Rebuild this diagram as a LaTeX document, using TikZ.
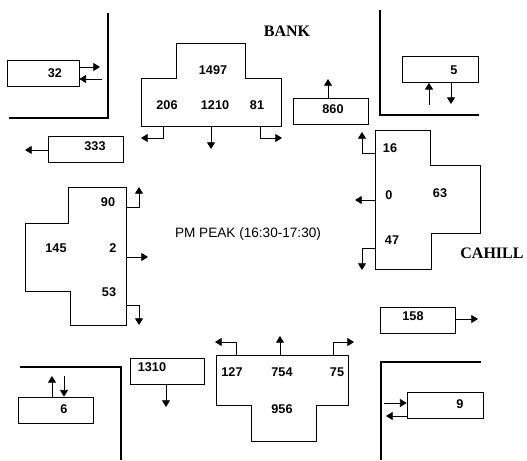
\documentclass[tikz,border=0pt]{standalone}
\usepackage{fontspec}
\setmainfont{Liberation Serif}
\setsansfont{Liberation Sans}
\usetikzlibrary{arrows.meta, positioning}

\begin{document}
\begin{tikzpicture}[x=0.75pt, y=-0.75pt,
  every node/.style={font=\sffamily\bfseries\fontsize{9.5}{11}\selectfont, inner sep=0pt},
  box/.style={draw, line width=0.6pt},
  kerb/.style={line width=1.8pt},
  arr/.style={line width=0.6pt, -{Triangle[length=5pt, width=6pt]}},
  road/.style={font=\rmfamily\bfseries\fontsize{12}{14}\selectfont}]

  \useasboundingbox (0,0) rectangle (527,460);

  % --- Kerb lines at the four corners ---
  \draw[kerb] (108,13) -- (108,118) -- (9,118);
  \draw[kerb] (380,10) -- (380,115) -- (479,115);
  \draw[kerb] (20,367) -- (121,367) -- (121,460);
  \draw[kerb] (481,362) -- (381,362) -- (381,460);

  % --- Link boxes: name/centre x/centre y/width/text x/text y ---
  \foreach \n/\cx/\cy/\w/\tx/\ty in {
    32/43/73/72/55/73, 333/85.5/149/75/95/146,
    860/330.5/111.5/75/333/109, 5/440/69.5/76/454/70,
    158/417.5/320/75/413/316, 9/445/405/76/460/404,
    1310/167/371/74/152/367, 6/55.5/410/75/64/409} {
    \node[box, minimum width=\w*0.75pt, minimum height=26*0.75pt] (b\n) at (\cx,\cy) {};
    \node (v\n) at (\tx,\ty) {\n};
  }

  % Link arrows
  \draw[arr] (b32.east |- 0,67) -- (100,67);
  \draw[arr] (102,79) -- (b32.east |- 0,79);
  \draw[arr] (b333.west |- 0,150) -- (25,150);
  \draw[arr] (b860.north -| 328,0) -- (328,79);
  \draw[arr] (429,105) -- (b5.south -| 429,0);
  \draw[arr] (b5.south -| 451,0) -- (451,104);
  \draw[arr] (b158.east |- 0,319) -- (478,319);
  \draw[arr] (384,403) -- (b9.west |- 0,403);
  \draw[arr] (b9.west |- 0,416) -- (386,416);
  \draw[arr] (b1310.south -| 166,0) -- (166,407);
  \draw[arr] (b6.north -| 52,0) -- (52,376);
  \draw[arr] (64,376) -- (b6.north -| 64,0);

  % --- Bank approach ---
  \draw[box] (176,43) -- (245,43) -- (245,78) -- (281,78) -- (281,126)
    -- (141,126) -- (141,78) -- (176,78) -- cycle;
  \draw[arr] (163,126) -- (163,138) -- (141,138);
  \draw[arr] (211,126) -- (211,149);
  \draw[arr] (260,126) -- (260,138) -- (282,138);
  \foreach \v/\x/\y in {1497/213/70, 206/167/105, 1210/215/105, 81/257/105}
    \node at (\x,\y) {\v};

  % --- Cahill approach ---
  \draw[box] (375,130) -- (430,130) -- (430,165) -- (480,165) -- (480,233)
    -- (431,233) -- (431,269) -- (375,269) -- cycle;
  \draw[arr] (375,153) -- (362,153) -- (362,132);
  \draw[arr] (375,200) -- (355,200);
  \draw[arr] (375,248) -- (362,248) -- (362,270);
  \foreach \v/\x/\y in {16/390/148, 0/389/195, 63/440/193, 47/392/240}
    \node at (\x,\y) {\v};

  % --- Left approach ---
  \draw[box] (68,187) -- (126,187) -- (126,325) -- (70,325) -- (70,291)
    -- (25,291) -- (25,223) -- (68,223) -- cycle;
  \draw[arr] (126,207) -- (139,207) -- (139,187);
  \draw[arr] (126,257) -- (148,257);
  \draw[arr] (126,305) -- (139,305) -- (139,325);
  \foreach \v/\x/\y in {90/108/202, 145/56/248, 2/113/248, 53/109/292}
    \node at (\x,\y) {\v};

  % --- Bottom approach ---
  \draw[box] (216,355) -- (348,355) -- (348,405) -- (316,405) -- (316,441)
    -- (251,441) -- (251,405) -- (216,405) -- cycle;
  \draw[arr] (236,355) -- (236,342) -- (215,342);
  \draw[arr] (280,355) -- (280,336);
  \draw[arr] (333,355) -- (333,342) -- (354,342);
  \foreach \v/\x/\y in {127/232/372, 754/282/372, 75/337/372, 956/282/409}
    \node at (\x,\y) {\v};

  % Street names and title
  \node[road] (bank) at (287,31) {BANK};
  \node[road] (cahill) at (492,253) {CAHILL};
  \node[font=\sffamily\fontsize{10.2}{12}\selectfont] (peak) at (248,234) {PM PEAK (16:30-17:30)};
\end{tikzpicture}
\end{document}
